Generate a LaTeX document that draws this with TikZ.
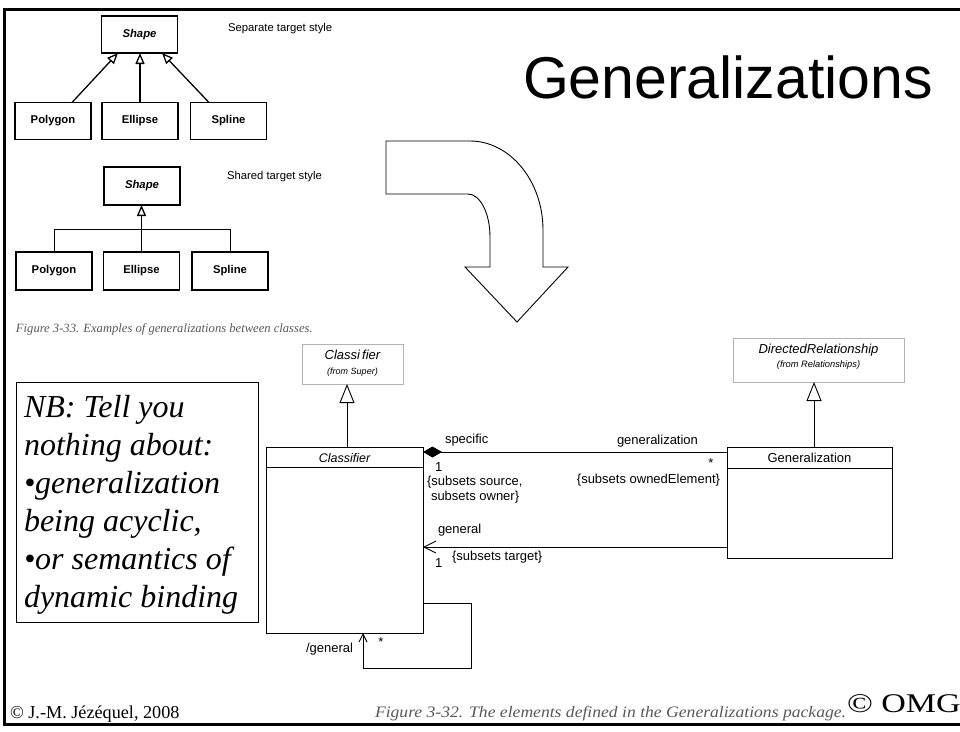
\documentclass[tikz,border=0pt]{standalone}
\usepackage{fontspec}
\setmainfont{Liberation Serif}
\setsansfont{Liberation Sans}
\usetikzlibrary{arrows.meta,calc}

\newcommand{\fsz}[1]{\fontsize{#1}{#1}\selectfont}

\tikzset{
  every node/.style={inner sep=0pt, outer sep=0pt},
  % boxes of the two small example diagrams
  shapebox/.style={draw, line width=1.3pt, minimum width=76pt, minimum height=37pt,
                   font=\sffamily\bfseries\fsz{11.3}},
  smallnote/.style={font=\sffamily\fsz{11.3}, anchor=west},
  gensmall/.style={line width=1.3pt, -{Triangle[open, length=11pt, width=9pt, line width=1.3pt]}},
  % UML class diagram
  umlbox/.style={draw, line width=0.9pt},
  superbox/.style={draw=black!30, line width=0.9pt},
  umltext/.style={font=\sffamily\fsz{13}, anchor=base west},
  genbig/.style={line width=0.9pt, -{Triangle[open, length=19pt, width=15pt, line width=0.9pt]}},
  compo/.style={line width=0.9pt, {Diamond[length=19pt, width=11pt]}-},
  navig/.style={line width=0.9pt, -{Straight Barb[length=12pt, width=12pt, line width=0.9pt]}},
  navsmall/.style={line width=0.9pt, -{Straight Barb[length=8pt, width=8pt, line width=0.9pt]}},
  caption/.style={font=\itshape\fsz{12.6}, text=black!65, anchor=base west},
  nbline/.style={font=\itshape\fsz{32}, anchor=base west},
}

\begin{document}
\begin{tikzpicture}[x=1pt, y=-1pt]
\useasboundingbox (0,0) rectangle (960,731);
\fill[white] (0,0) rectangle (960,731);

% slide frame
\draw[line width=3pt] (960,9) -- (4,9) -- (4,724) -- (960,724);

% title
\node[font=\sffamily\fsz{59}, anchor=base west] (title) at (523,98) {Generalizations};

% ---- separate target style
\node[shapebox, font=\sffamily\bfseries\itshape\fsz{11.3}] (shapeA) at (139.5,34.5) {Shape};
\node[shapebox] (polyA) at (53,121) {Polygon};
\node[shapebox] (ellA) at (140,121) {Ellipse};
\node[shapebox] (splA) at (228.5,121) {Spline};
\node[smallnote] (noteA) at (228,29) {Separate target style};
\draw[gensmall] ([xshift=19pt]polyA.north) -- ([xshift=-21.5pt]shapeA.south);
\draw[gensmall] (ellA.north) -- (ellA.north |- shapeA.south);
\draw[gensmall] ([xshift=-19.5pt]splA.north) -- ([xshift=22.5pt]shapeA.south);

% ---- shared target style
\node[shapebox, minimum height=38pt, font=\sffamily\bfseries\itshape\fsz{11.3}] (shapeB) at (142,186) {Shape};
\node[shapebox, minimum height=38pt] (polyB) at (54,271) {Polygon};
\node[shapebox, minimum height=38pt] (ellB) at (141.5,271) {Ellipse};
\node[shapebox, minimum height=38pt] (splB) at (230,271) {Spline};
\node[smallnote] (noteB) at (227,177) {Shared target style};
\draw[line width=1pt] (polyB.north) -- ++(0,-23) -| (splB.north);
\draw[gensmall, line width=1pt] (ellB.north) -- (ellB.north |- shapeB.south);

\node[caption] (cap33) at (16,332) {Figure 3-33. Examples of generalizations between classes.};

% ---- curved block arrow
\draw[line width=0.9pt, line join=miter]
  (386,141) -- (470,141) .. controls (510,141) and (543,181) .. (543,230)
  -- (543,267) -- (568,267) -- (517,322) -- (465,267) -- (490,267)
  -- (490,237) .. controls (490,213) and (480,194) .. (468,194)
  -- (386,194) -- cycle;

% ---- note box
\node[draw, line width=1pt, minimum width=242pt, minimum height=240pt] (nb) at (137,502) {};
\node[nbline] (nb1) at (24,417) {NB: Tell you};
\node[nbline] (nb2) at (24,455) {nothing about:};
\node[nbline] (nb3) at (24,493) {•generalization};
\node[nbline] (nb4) at (24,531) {being acyclic,};
\node[nbline] (nb5) at (24,569) {•or semantics of};
\node[nbline] (nb6) at (24,607) {dynamic binding};

% ---- UML classes
\node[superbox, minimum width=101pt, minimum height=40pt] (clsSuper) at (352.5,364) {};
\node[font=\sffamily\itshape\fsz{13}, anchor=base] at (352.5,359) {Classi\,fier};
\node[font=\sffamily\itshape\fsz{9}, anchor=base] at (352.5,374) {(from Super)};

\node[superbox, minimum width=171pt, minimum height=44pt] (dirRel) at (818.5,360) {};
\node[font=\sffamily\itshape\fsz{13}, anchor=base] at (818.5,353) {DirectedRelationship};
\node[font=\sffamily\itshape\fsz{9.3}, anchor=base] at (818.5,367) {(from Relationships)};

\node[umlbox, minimum width=157pt, minimum height=186pt] (cls) at (344.5,540) {};
\draw[line width=0.9pt] ([yshift=-20pt]cls.north west) -- ([yshift=-20pt]cls.north east);
\node[font=\sffamily\itshape\fsz{12.5}, anchor=base] at (344.5,462) {Classifier};

\node[umlbox, minimum width=165pt, minimum height=111pt] (gen) at (809.5,502.5) {};
\draw[line width=0.9pt] ([yshift=-21pt]gen.north west) -- ([yshift=-21pt]gen.north east);
\node[font=\sffamily\fsz{13}, anchor=base] at (809.5,462) {Generalization};

% generalization arrows
\draw[genbig] ([xshift=2.5pt]cls.north) -- ([xshift=2.5pt]cls.north |- clsSuper.south);
\draw[genbig] ([xshift=4.5pt]gen.north) -- ([xshift=4.5pt]gen.north |- dirRel.south);

% specific / generalization composition
\draw[compo] ([yshift=-5pt]cls.north east) -- ([yshift=-5pt]gen.north west);
\node[umltext] at (445,443) {specific};
\node[umltext] at (617,444) {generalization};
\node[umltext] at (435,471) {1};
\node[umltext] at (427,485) {\{subsets source,};
\node[umltext] at (431,500) {subsets owner\}};
\node[font=\sffamily\fsz{13}, anchor=north] at (711,459) {*};
\node[font=\sffamily\fsz{13}, anchor=base east] at (720,483) {\{subsets ownedElement\}};

% general association
\draw[navig] ([yshift=11pt]gen.south west) -- ([yshift=11pt]gen.south west -| cls.east);
\node[umltext] at (438,533) {general};
\node[umltext] at (435,567) {1};
\node[umltext] at (452,560) {\{subsets target\}};

% derived /general self association
\draw[navsmall] ([yshift=30pt]cls.south east) -- ++(48,0) -- ++(0,65) -- ++(-108,0)
  -- ([xshift=18.5pt]cls.south);
\node[font=\sffamily\fsz{13}, anchor=base east] at (353,652) {/general};
\node[font=\sffamily\fsz{13}, anchor=north] at (381,638) {*};

% footer
\node[font=\fsz{18.2}, anchor=base west] (auth) at (10,718) {© J.-M. Jézéquel, 2008};
\node[caption, font=\itshape\fsz{16}] (cap32) at (375,717) {\scalebox{1.1}[1]{Figure 3-32. The elements defined in the Generalizations package.}};
\node[font=\fsz{27}, anchor=base west] (omg) at (847,712) {\scalebox{1.26}[1]{© OMG}};
\end{tikzpicture}
\end{document}
